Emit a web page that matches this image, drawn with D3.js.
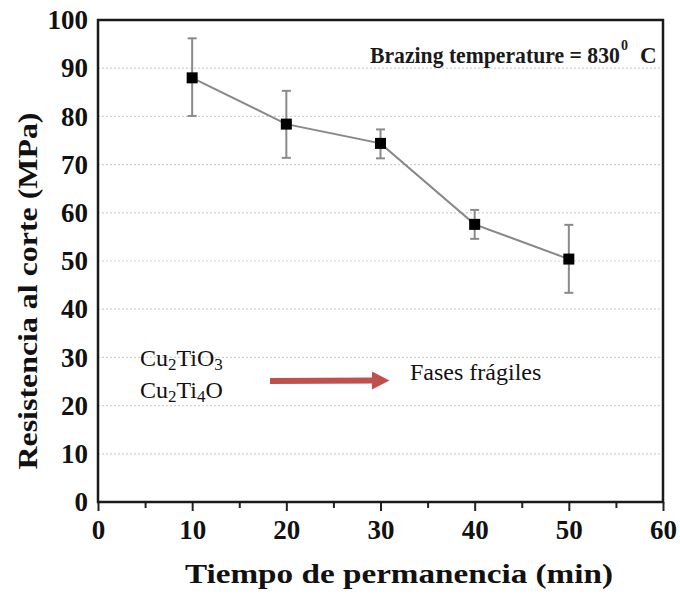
<!DOCTYPE html>
<html>
<head>
<meta charset="utf-8">
<script src="https://cdn.jsdelivr.net/npm/d3@7"></script>
<style>
body{margin:0;background:#fff;}
svg{display:block;font-family:"Liberation Serif","Times New Roman",serif;}
</style>
</head>
<body>
<svg id="canvas" width="680" height="604"></svg>
<script>
// data
let tiempo=[10,20,30,40,50];
let resistencia=[88.0,78.4,74.4,57.6,50.4];
let errSup=[96.2,85.3,77.3,60.6,57.5];
let errInf=[80.1,71.4,71.3,54.6,43.4];
let xTicks=[0,10,20,30,40,50,60];
let yTicks=[0,10,20,30,40,50,60,70,80,90,100];

let w=680,h=604;
let padL=98,padR=663,padT=20,padB=502;

let canvas=d3.select('#canvas');

let xScale=d3.scaleLinear().domain([0,60]).range([padL,padR]);
let yScale=d3.scaleLinear().domain([0,100]).range([padB,padT]);

// dotted grid
canvas.append('g').selectAll('line').data(yTicks.filter(d=>d>0&&d<100)).enter().append('line')
  .attr('x1',padL).attr('x2',padR)
  .attr('y1',d=>yScale(d)).attr('y2',d=>yScale(d))
  .attr('stroke','#cfcfcf').attr('stroke-width',1.2).attr('stroke-dasharray','2,2');

// x axis with minor ticks
let xAxis=d3.axisBottom(xScale).tickValues(xTicks).tickSize(9).tickPadding(9).tickFormat(d3.format('d'));
let gx=canvas.append('g').attr('id','x-axis').attr('transform','translate(0,'+padB+')').call(xAxis);
gx.select('.domain').remove();
gx.selectAll('line').attr('stroke','#222').attr('stroke-width',2);
gx.selectAll('text').style('font','bold 27px "Liberation Serif"').attr('fill','#111');
let minor=d3.axisBottom(xScale).tickValues([5,15,25,35,45,55]).tickSize(6).tickFormat('');
let gm=canvas.append('g').attr('transform','translate(0,'+padB+')').call(minor);
gm.select('.domain').remove();
gm.selectAll('line').attr('stroke','#222').attr('stroke-width',2);

// y axis
let yAxis=d3.axisLeft(yScale).tickValues(yTicks).tickSize(0).tickPadding(10);
let gy=canvas.append('g').attr('id','y-axis').attr('transform','translate('+padL+',0)').call(yAxis);
gy.select('.domain').remove();
gy.selectAll('text').style('font','bold 27px "Liberation Serif"').attr('fill','#111');

// frame
canvas.append('rect').attr('x',padL).attr('y',padT).attr('width',padR-padL).attr('height',padB-padT)
  .attr('fill','none').attr('stroke','#1a1a1a').attr('stroke-width',2.5);

// error bars
let eb=canvas.append('g').attr('stroke','#8a8a8a').attr('stroke-width',2);
tiempo.forEach((t,i)=>{
  let x=xScale(t);
  eb.append('line').attr('x1',x).attr('x2',x).attr('y1',yScale(errSup[i])).attr('y2',yScale(errInf[i]));
  eb.append('line').attr('x1',x-4.5).attr('x2',x+4.5).attr('y1',yScale(errSup[i])).attr('y2',yScale(errSup[i]));
  eb.append('line').attr('x1',x-4.5).attr('x2',x+4.5).attr('y1',yScale(errInf[i])).attr('y2',yScale(errInf[i]));
});

// line
let line=d3.line().x((d,i)=>xScale(tiempo[i])).y(d=>yScale(d));
canvas.append('path').datum(resistencia).attr('d',line).attr('fill','none').attr('stroke','#888').attr('stroke-width',2);

// markers
canvas.selectAll('rect.pt').data(resistencia).enter().append('rect').attr('class','pt')
  .attr('x',(d,i)=>xScale(tiempo[i])-5.5).attr('y',d=>yScale(d)-5.5)
  .attr('width',11).attr('height',11).attr('fill','#000');

// annotation top right (squeezed horizontally to fit like the original)
let bt=canvas.append('text').style('font','bold 23px "Liberation Serif"').attr('fill','#1a1a1a').text('Brazing temperature = 830');
let btW=bt.node().getComputedTextLength();
bt.attr('transform','translate(370,63) scale('+(250/btW)+',1)');
canvas.append('text').attr('x',621).attr('y',50)
  .style('font','bold 14px "Liberation Serif"').attr('fill','#1a1a1a').text('0');
canvas.append('text').attr('x',640).attr('y',63)
  .style('font','bold 23px "Liberation Serif"').attr('fill','#1a1a1a').text('C');

// phases
let t1=canvas.append('text').attr('x',140).attr('y',366).style('font','24px "Liberation Serif"').attr('fill','#111');
t1.append('tspan').text('Cu');
t1.append('tspan').style('font-size','17px').attr('dy',4).text('2');
t1.append('tspan').attr('dy',-4).text('TiO');
t1.append('tspan').style('font-size','17px').attr('dy',4).text('3');
let t2=canvas.append('text').attr('x',140).attr('y',398).style('font','24px "Liberation Serif"').attr('fill','#111');
t2.append('tspan').text('Cu');
t2.append('tspan').style('font-size','17px').attr('dy',4).text('2');
t2.append('tspan').attr('dy',-4).text('Ti');
t2.append('tspan').style('font-size','17px').attr('dy',4).text('4');
t2.append('tspan').attr('dy',-4).text('O');

// red arrow
canvas.append('line').attr('x1',270).attr('x2',374).attr('y1',381).attr('y2',380.5)
  .attr('stroke','#c0504d').attr('stroke-width',6);
canvas.append('path').attr('d','M372,371.5 L389.5,380.5 L372,389.5 Z').attr('fill','#c0504d');

canvas.append('text').attr('x',410).attr('y',380).style('font','24px "Liberation Serif"').attr('fill','#111').text('Fases frágiles');

// axis titles
canvas.append('text').attr('text-anchor','middle').attr('x',399).attr('y',583)
  .attr('textLength',428).attr('lengthAdjust','spacingAndGlyphs')
  .style('font','bold 28px "Liberation Serif"').attr('fill','#111').text('Tiempo de permanencia (min)');
canvas.append('text').attr('text-anchor','middle').attr('transform','translate(37,291) rotate(-90)')
  .attr('textLength',357).attr('lengthAdjust','spacingAndGlyphs')
  .style('font','bold 28px "Liberation Serif"').attr('fill','#111').text('Resistencia al corte (MPa)');
</script>
</body>
</html>
